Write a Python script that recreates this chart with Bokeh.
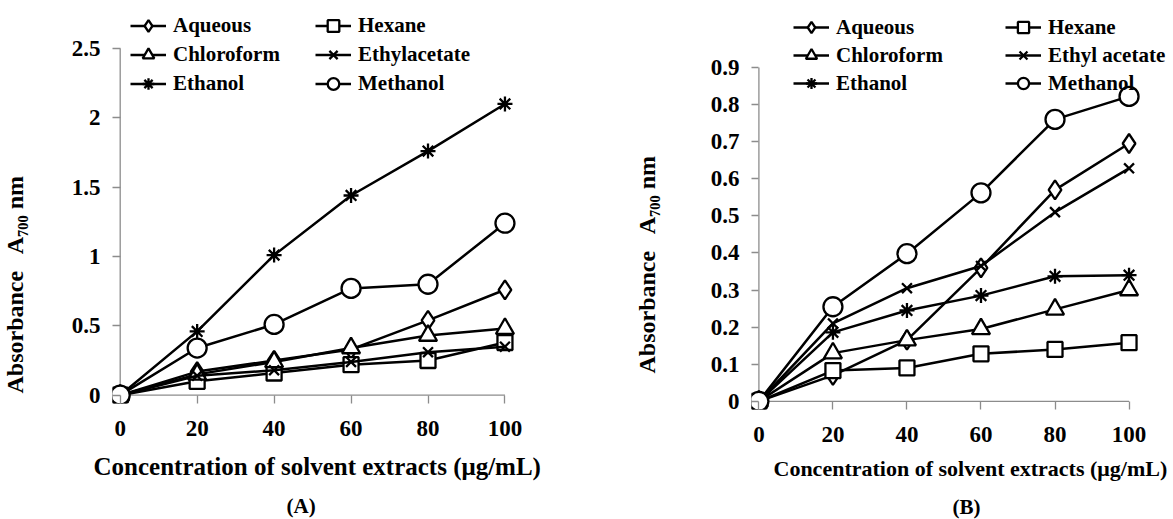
from bokeh.plotting import figure
from bokeh.layouts import row
from bokeh.models import Range1d, FixedTicker, NumeralTickFormatter, Legend, LegendItem, Title
from bokeh.embed import file_html
from bokeh.resources import INLINE

# ---------------- data ----------------
conc = [0, 20, 40, 60, 80, 100]
x_ticks = [0, 20, 40, 60, 80, 100]

a_aqueous = [0, 0.17, 0.25, 0.33, 0.54, 0.76]
a_hexane = [0, 0.10, 0.16, 0.22, 0.25, 0.38]
a_chloroform = [0, 0.15, 0.24, 0.34, 0.43, 0.48]
a_ethylacetate = [0, 0.14, 0.18, 0.24, 0.31, 0.35]
a_ethanol = [0, 0.46, 1.01, 1.44, 1.76, 2.10]
a_methanol = [0, 0.34, 0.51, 0.77, 0.80, 1.24]
a_y_ticks = [0, 0.5, 1, 1.5, 2, 2.5]

b_aqueous = [0, 0.07, 0.165, 0.36, 0.57, 0.695]
b_hexane = [0, 0.083, 0.09, 0.128, 0.14, 0.158]
b_chloroform = [0, 0.13, 0.165, 0.195, 0.248, 0.30]
b_ethylacetate = [0, 0.21, 0.305, 0.365, 0.51, 0.628]
b_ethanol = [0, 0.186, 0.245, 0.285, 0.337, 0.34]
b_methanol = [0, 0.255, 0.398, 0.562, 0.76, 0.822]
b_y_ticks = [0, 0.1, 0.2, 0.3, 0.4, 0.5, 0.6, 0.7, 0.8, 0.9]

names_a = ["Aqueous", "Hexane", "Chloroform", "Ethylacetate", "Ethanol", "Methanol"]
names_b = ["Aqueous", "Hexane", "Chloroform", "Ethyl acetate", "Ethanol", "Methanol"]
markers = ["diamond", "square", "triangle", "x", "asterisk", "circle"]
marker_sizes = [19, 15, 18, 14, 15, 19]

y_title = "Absorbance\u2002 A\u2087\u2080\u2080 nm"
x_title = "Concentration of solvent extracts (\u03bcg/mL)"

FONT = "Liberation Serif"
AXIS_GRAY = "#8c8c8c"


def make_panel(series, names, y_ticks, cfg):
    xpad = cfg["xpad"]
    ypad = cfg["ypad"]
    xmax = cfg["xmax"]
    p = figure(
        x_range=Range1d(-xpad, xmax),
        y_range=Range1d(-ypad, cfg["ymax"]),
        frame_width=cfg["fw"], frame_height=cfg["fh"],
        min_border_left=cfg["bl"], min_border_right=cfg["br"],
        min_border_top=cfg["bt"], min_border_bottom=cfg["bb"],
        output_backend="svg", toolbar_location=None,
    )
    if cfg.get("margin") is not None:
        p.margin = cfg["margin"]
    p.outline_line_color = None
    p.xgrid.visible = False
    p.ygrid.visible = False
    p.background_fill_color = "white"
    p.border_fill_color = "white"

    xpx = cfg["fw"] / (xmax + xpad) * xpad
    ypx = cfg["fh"] / (cfg["ymax"] + ypad) * ypad

    # axis lines drawn at data zero, spanning the tick range
    p.segment(x0=[0, 0], y0=[0, 0], x1=[0, x_ticks[-1]], y1=[y_ticks[-1], 0],
              line_color=AXIS_GRAY, line_width=1.3)

    xa = p.xaxis[0]
    xa.ticker = FixedTicker(ticks=x_ticks)
    xa.formatter = NumeralTickFormatter(format="0")
    xa.axis_line_color = None
    xa.major_tick_in = int(round(ypx))
    xa.major_tick_out = 0
    xa.major_tick_line_color = AXIS_GRAY
    xa.major_tick_line_width = 1.3
    xa.minor_tick_line_color = None
    xa.major_label_standoff = cfg["xstand"]
    xa.major_label_text_font = FONT
    xa.major_label_text_font_style = "bold"
    xa.major_label_text_font_size = "23px"
    xa.major_label_text_color = "black"

    ya = p.yaxis[0]
    ya.ticker = FixedTicker(ticks=y_ticks)
    ya.formatter = NumeralTickFormatter(format="0.[0]")
    ya.axis_line_color = None
    ya.major_tick_in = int(round(xpx))
    ya.major_tick_out = 0
    ya.major_tick_line_color = AXIS_GRAY
    ya.major_tick_line_width = 1.3
    ya.minor_tick_line_color = None
    ya.major_label_standoff = cfg["ystand"]
    ya.major_label_text_font = FONT
    ya.major_label_text_font_style = "bold"
    ya.major_label_text_font_size = "23px"
    ya.major_label_text_color = "black"

    items = {}
    for vals, name, mk, ms in zip(series, names, markers, marker_sizes):
        ln = p.line(conc, vals, line_color="black", line_width=2.5)
        sc = p.scatter(conc, vals, marker=mk, size=ms, line_color="black",
                       line_width=2.3, fill_color="white")
        items[name] = [ln, sc]

    # column-first order for a 2-column, 3-row legend
    order = [names[0], names[2], names[4], names[1], names[3], names[5]]
    legend = Legend(
        items=[LegendItem(label=n, renderers=items[n]) for n in order],
        ncols=2,
        location=cfg["legloc"],
        label_text_font=FONT, label_text_font_style="bold",
        label_text_font_size="21px", label_text_color="black",
        glyph_width=36, glyph_height=cfg["labh"], label_width=cfg["labw"],
        label_height=cfg["labh"], label_standoff=7, spacing=0,
        padding=0, margin=0, background_fill_alpha=0,
        border_line_color=None,
    )
    p.add_layout(legend, "center")

    # y axis title
    p.add_layout(Title(text=y_title, align="left", offset=cfg["yoff"],
                       standoff=cfg["ytstand"], text_font=FONT, text_font_style="bold",
                       text_font_size="24px", text_color="black"), "left")
    # x axis title
    p.add_layout(Title(text=x_title, align="left", offset=cfg["xoff"],
                       standoff=cfg["xtstand"], text_font=FONT, text_font_style="bold",
                       text_font_size=cfg["xlabsize"], text_color="black"), "below")
    # panel tag
    p.add_layout(Title(text=cfg["tagtext"], align="left", offset=cfg["tagoff"],
                       standoff=cfg["tagstand"], text_font=FONT, text_font_style="bold",
                       text_font_size="21px", text_color="black"), "below")
    return p


cfg_a = dict(xpad=2, xmax=103, ypad=0.06, ymax=2.81, fw=404, fh=398, bl=160, br=64, bt=5, bb=116,
             margin=(0, 0, 0, -48),
             xstand=17, ystand=12, legloc=(18, 305), labw=142, labh=29,
             yoff=10, ytstand=82, xoff=-19, xtstand=24, xlabsize="25px",
             tagoff=174, tagstand=0, tagtext="(A)")
cfg_b = dict(xpad=2, xmax=111.2, ypad=0.022, ymax=1.067, fw=419, fh=404, bl=171, br=3, bt=5, bb=110,
             margin=None,
             xstand=17, ystand=12, legloc=(42, 312), labw=169, labh=28,
             yoff=36, ytstand=96, xoff=22, xtstand=18, xlabsize="22px",
             tagoff=201, tagstand=6, tagtext="(B)")

pa = make_panel([a_aqueous, a_hexane, a_chloroform, a_ethylacetate, a_ethanol, a_methanol],
                names_a, a_y_ticks, cfg_a)
pb = make_panel([b_aqueous, b_hexane, b_chloroform, b_ethylacetate, b_ethanol, b_methanol],
                names_b, b_y_ticks, cfg_b)

layout = row(pa, pb)
open("out.html", "w").write(file_html(layout, INLINE))
